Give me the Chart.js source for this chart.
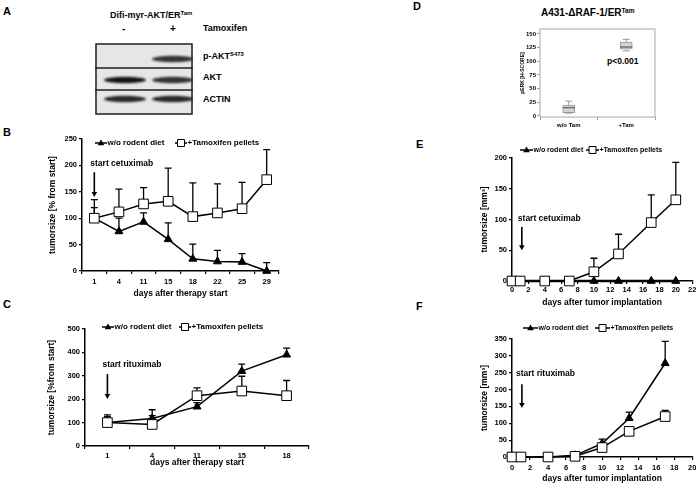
<!DOCTYPE html>
<html>
<head>
<title>Tumorsize</title>
<script src="https://cdn.jsdelivr.net/npm/chart.js"></script>
<style>
  body { margin: 0; background: #fff; font-family: "Liberation Sans", Arial, sans-serif; }
  #fig { position: relative; width: 700px; height: 488px; overflow: hidden; }
  #fig canvas { position: absolute; }
  .t { position: absolute; font-weight: bold; line-height: 1; white-space: nowrap; color: #000; }
  .t sup { font-size: 65%; vertical-align: 0.45em; line-height: 0; }
  .letter { font-size: 11px; }
</style>
</head>
<body>
<div id="fig">
  <div class="t letter" style="left:3px;top:6px">A</div>
  <div class="t letter" style="left:3px;top:127px">B</div>
  <div class="t letter" style="left:3px;top:299px">C</div>
  <div class="t letter" style="left:413px;top:1px">D</div>
  <div class="t letter" style="left:416px;top:139px">E</div>
  <div class="t letter" style="left:416px;top:301px">F</div>

  <div class="t" style="left:110px;top:11px;font-size:9px">Difi-myr-AKT/ER<sup>Tam</sup></div>
  <div class="t" style="left:122px;top:24px;font-size:10px">-</div>
  <div class="t" style="left:170px;top:24px;font-size:10px">+</div>
  <div class="t" style="left:203px;top:24px;font-size:9px">Tamoxifen</div>
  <div class="t" style="left:203px;top:52px;font-size:9px">p-AKT<sup>S473</sup></div>
  <div class="t" style="left:203px;top:73px;font-size:9px">AKT</div>
  <div class="t" style="left:203px;top:95px;font-size:9px">ACTIN</div>
  <canvas id="blot" width="98" height="72" style="left:95px;top:43px"></canvas>

  <div class="t" style="left:541px;top:8px;font-size:10px">A431-ΔRAF-1/ER<sup>Tam</sup></div>
  <div class="t" style="left:607px;top:57px;font-size:8.5px">p&lt;0.001</div>

  <canvas id="chartB" width="270" height="175" style="left:30px;top:125px"></canvas>
  <canvas id="chartC" width="290" height="153" style="left:30px;top:315px"></canvas>
  <canvas id="chartD" width="170" height="117" style="left:500px;top:15px"></canvas>
  <canvas id="chartE" width="230" height="170" style="left:470px;top:140px"></canvas>
  <canvas id="chartF" width="230" height="168" style="left:470px;top:320px"></canvas>
</div>

<script>
// ---- data ----
// A: western blot band strength, lanes [-Tam, +Tam]
const blotPAkt = [0, 0.85];
const blotAkt = [1, 0.85];
const blotActin = [0.9, 0.9];

// B: Difi, cetuximab
const daysB = ['1', '4', '11', '15', '18', '22', '25', '29'];
const dietB = [100, 75, 93, 60, 23, 18, 17, 0];
const dietErrB = [120, 100, 110, 91, 51, 39, 33, 16];
const tamB = [100, 112, 127, 132, 103, 110, 118, 173];
const tamErrB = [135, 155, 158, 195, 167, 165, 168, 230];

// C: rituximab
const daysC = ['1', '4', '11', '15', '18'];
const dietC = [100, 118, 168, 320, 390];
const dietErrC = [125, 155, 185, 350, 418];
const tamC = [100, 92, 215, 235, 215];
const tamErrC = [133, 130, 248, 298, 280];

// D: pERK H-score box plot
const groupsD = ['w/o Tam', '+Tam'];
const minD = [5, 119];
const q1D = [6, 122];
const medD = [15, 126];
const q3D = [20, 135];
const maxD = [27, 140];

// E: A431, cetuximab
const daysE = [0, 1, 4, 7, 10, 13, 17, 20];
const dietE = [0, 0, 0, 0, 0, 0, 0, 0];
const tamE = [0, 0, 0, 0, 15, 44, 95, 132];
const tamErrE = [0, 0, 0, 0, 37, 76, 140, 193];

// F: rituximab
const daysF = [0, 1, 4, 7, 10, 13, 17];
const dietF = [0, 0, 0, 5, 40, 115, 278];
const dietErrF = [0, 0, 0, 10, 53, 133, 343];
const tamF = [0, 0, 0, 2, 28, 76, 120];
const tamErrF = [0, 0, 0, 4, 33, 85, 138];

Chart.defaults.font.family = "'Liberation Sans', Arial, sans-serif";
Chart.defaults.font.weight = 'bold';
Chart.defaults.font.size = 8;
Chart.defaults.color = '#000';
Chart.defaults.animation = false;
Chart.defaults.plugins.legend.display = false;
Chart.defaults.plugins.tooltip.enabled = false;

// ---- blot ----
(function () {
  const c = document.getElementById('blot').getContext('2d');
  c.fillStyle = '#e6e6e6';
  c.fillRect(0, 0, 98, 72);
  const rows = [blotPAkt, blotAkt, blotActin];
  const rowY = [16, 37, 56];
  const laneX = [30, 78];
  c.filter = 'blur(1.2px)';
  rows.forEach((r, i) => {
    r.forEach((v, j) => {
      if (!v) return;
      c.fillStyle = 'rgba(20,20,20,' + v + ')';
      c.beginPath();
      c.ellipse(laneX[j], rowY[i], 21, 3.2, 0, 0, Math.PI * 2);
      c.fill();
    });
  });
  c.filter = 'none';
  c.strokeStyle = '#222';
  c.lineWidth = 1.5;
  c.strokeRect(1, 1, 96, 70);
  c.beginPath();
  c.moveTo(0, 25); c.lineTo(98, 25);
  c.moveTo(0, 47); c.lineTo(98, 47);
  c.stroke();
})();

// ---- plugins ----
const errorBars = {
  id: 'errorBars',
  beforeDatasetsDraw(chart) {
    const ctx = chart.ctx, ys = chart.scales.y;
    ctx.save();
    ctx.strokeStyle = '#000';
    ctx.lineWidth = 1.3;
    chart.data.datasets.forEach((ds, i) => {
      if (!ds.errTop) return;
      const meta = chart.getDatasetMeta(i);
      ds.errTop.forEach((top, j) => {
        const pt = meta.data[j];
        const y1 = ys.getPixelForValue(top);
        if (y1 >= pt.y - 1) return;
        ctx.beginPath();
        ctx.moveTo(pt.x, pt.y);
        ctx.lineTo(pt.x, y1);
        ctx.moveTo(pt.x - 3.5, y1);
        ctx.lineTo(pt.x + 3.5, y1);
        ctx.stroke();
      });
    });
    ctx.restore();
  }
};

function marker(ctx, style, x, y, s) {
  ctx.beginPath();
  if (style === 'triangle') {
    ctx.moveTo(x, y - s);
    ctx.lineTo(x + s * 0.95, y + s * 0.65);
    ctx.lineTo(x - s * 0.95, y + s * 0.65);
    ctx.closePath();
    ctx.fillStyle = '#000';
    ctx.fill();
  } else {
    ctx.rect(x - s, y - s, s * 2, s * 2);
    ctx.fillStyle = '#fff';
    ctx.fill();
    ctx.lineWidth = 1;
    ctx.strokeStyle = '#000';
    ctx.stroke();
  }
}

const lineLegend = {
  id: 'lineLegend',
  afterDraw(chart, args, o) {
    if (!o.items) return;
    const ctx = chart.ctx;
    ctx.save();
    ctx.font = 'bold ' + (o.size || 8) + 'px "Liberation Sans", Arial, sans-serif';
    ctx.textBaseline = 'middle';
    o.items.forEach((it) => {
      const ds = chart.data.datasets[it.ds];
      ctx.strokeStyle = '#000';
      ctx.lineWidth = 1.5;
      ctx.beginPath();
      ctx.moveTo(it.x, o.y);
      ctx.lineTo(it.x + o.len, o.y);
      ctx.stroke();
      marker(ctx, ds.pointStyle, it.x + o.len / 2, o.y, 3.5);
      ctx.fillStyle = '#000';
      ctx.fillText(ds.label, it.x + o.len + 0.5, o.y);
    });
    ctx.restore();
  }
};

const startNote = {
  id: 'startNote',
  afterDraw(chart, args, o) {
    if (!o.text) return;
    const ctx = chart.ctx, xs = chart.scales.x, ys = chart.scales.y;
    const x = xs.getPixelForValue(o.x);
    const yFrom = ys.getPixelForValue(o.yFrom), yTo = ys.getPixelForValue(o.yTo);
    ctx.save();
    ctx.font = 'bold 8.5px "Liberation Sans", Arial, sans-serif';
    ctx.textBaseline = 'middle';
    ctx.fillStyle = '#000';
    ctx.fillText(o.text, x + o.dx, ys.getPixelForValue(o.yText));
    ctx.strokeStyle = '#000';
    ctx.lineWidth = 1.6;
    ctx.beginPath();
    ctx.moveTo(x, yFrom);
    ctx.lineTo(x, yTo - 4);
    ctx.stroke();
    ctx.beginPath();
    ctx.moveTo(x - 2.8, yTo - 5);
    ctx.lineTo(x + 2.8, yTo - 5);
    ctx.lineTo(x, yTo);
    ctx.closePath();
    ctx.fill();
    ctx.restore();
  }
};

function series(label, style, vals, xs, err, order) {
  return {
    label: label,
    data: xs ? xs.map((x, i) => ({ x: x, y: vals[i] })) : vals,
    errTop: err,
    pointStyle: style,
    pointRadius: style === 'triangle' ? 4.6 : 6.8,
    pointBorderWidth: 1,
    pointBackgroundColor: style === 'triangle' ? '#000' : '#fff',
    pointBorderColor: '#000',
    borderColor: '#000',
    borderWidth: 1.5,
    tension: 0,
    clip: false,
    order: order
  };
}

function lineChart(id, box, xCfg, yCfg, datasets, legend, note) {
  return new Chart(document.getElementById(id), {
    type: 'line',
    data: { labels: xCfg.labels, datasets: datasets },
    options: {
      responsive: false,
      layout: { padding: { top: box.top, right: box.right, left: 0, bottom: 0 } },
      scales: {
        x: Object.assign({
          border: { color: '#000', width: 1.5 },
          grid: { drawOnChartArea: false, color: '#000', tickLength: 3, lineWidth: 1.2 },
          ticks: { font: { size: 7.5 }, padding: box.tickPad, maxRotation: 0, autoSkip: false },
          title: { display: true, text: xCfg.title, font: { size: 8.5 }, padding: { top: 0, bottom: box.titlePad } },
          afterFit: (s) => { s.height = box.xh; }
        }, xCfg.opts),
        y: {
          min: yCfg.min, max: yCfg.max,
          border: { color: '#000', width: 1.5 },
          grid: { drawOnChartArea: false, color: '#000', tickLength: 3, lineWidth: 1.2 },
          ticks: { stepSize: yCfg.step, font: { size: 7.5 }, padding: 2 },
          title: { display: true, text: yCfg.title, font: { size: 8.5 }, padding: { top: box.yTitlePad, bottom: 0 } },
          afterFit: (s) => { s.width = box.yw; }
        }
      },
      plugins: { lineLegend: legend, startNote: note }
    },
    plugins: [errorBars, lineLegend, startNote]
  });
}

const catX = { type: 'category', offset: true, grid: { offset: true, drawOnChartArea: false, color: '#000', tickLength: 3, lineWidth: 1.2 } };

// B
lineChart('chartB',
  { top: 14, right: 21, yw: 52, xh: 29, tickPad: 3, titlePad: 1, yTitlePad: 18 },
  { labels: daysB, title: 'days after therapy start', opts: catX },
  { min: 0, max: 250, step: 50, title: 'tumorsize [% from start]' },
  [series('+Tamoxifen pellets', 'rect', tamB, null, tamErrB, 1),
   series('w/o rodent diet', 'triangle', dietB, null, dietErrB, 2)],
  { y: 18, len: 12, items: [{ ds: 1, x: 65 }, { ds: 0, x: 145 }] },
  { text: 'start cetuximab', x: 0, dx: -4, yText: 204, yFrom: 187, yTo: 140 });

// C
lineChart('chartC',
  { top: 14, right: 11, yw: 55, xh: 22, tickPad: 2, titlePad: 0, yTitlePad: 17 },
  { labels: daysC, title: 'days after therapy start', opts: catX },
  { min: 0, max: 500, step: 100, title: 'tumorsize [%from start]' },
  [series('+Tamoxifen pellets', 'rect', tamC, null, tamErrC, 1),
   series('w/o rodent diet', 'triangle', dietC, null, dietErrC, 2)],
  { y: 12, len: 12, items: [{ ds: 1, x: 72 }, { ds: 0, x: 149 }] },
  { text: 'start rituximab', x: 0, dx: -5, yText: 346, yFrom: 308, yTo: 201 });

// E
const linX = (max, pad) => ({
  type: 'linear', min: 0, max: max,
  ticks: { stepSize: 2, font: { size: 7.5 }, padding: pad },
  afterBuildTicks: (s) => { s.ticks = []; for (let v = 0; v <= max; v += 2) s.ticks.push({ value: v }); }
});
const eDiet = series('w/o rodent diet', 'triangle', dietE, daysE, null, 2);
eDiet.borderWidth = 2.5;
lineChart('chartE',
  { top: 18, right: 7, yw: 42, xh: 29, tickPad: 1.5, titlePad: 2, yTitlePad: 10 },
  { title: 'days after tumor implantation', opts: linX(22, 1.5) },
  { min: 0, max: 200, step: 50, title: 'tumorsize [mm³]' },
  [series('+Tamoxifen pellets', 'rect', tamE, daysE, tamErrE, 1), eDiet],
  { y: 10, len: 13, size: 7, items: [{ ds: 1, x: 50 }, { ds: 0, x: 116 }] },
  { text: 'start cetuximab', x: 1.2, dx: -4, yText: 102, yFrom: 88, yTo: 50 });

// F
lineChart('chartF',
  { top: 19, right: 7, yw: 42, xh: 31, tickPad: 3.5, titlePad: 4, yTitlePad: 10 },
  { title: 'days after tumor implantation', opts: linX(20, 3.5) },
  { min: 0, max: 350, step: 50, title: 'tumorsize [mm³]' },
  [series('+Tamoxifen pellets', 'rect', tamF, daysF, tamErrF, 1),
   series('w/o rodent diet', 'triangle', dietF, daysF, dietErrF, 2)],
  { y: 8, len: 15, size: 7, items: [{ ds: 1, x: 53 }, { ds: 0, x: 125 }] },
  { text: 'start rituximab', x: 1.1, dx: -6, yText: 246, yFrom: 216, yTo: 145 });

// D: box plot (box as floating bar, whiskers/median via plugin)
const boxExtras = {
  id: 'boxExtras',
  afterDatasetsDraw(chart) {
    const ctx = chart.ctx, ys = chart.scales.y, a = chart.chartArea;
    const meta = chart.getDatasetMeta(0);
    ctx.save();
    ctx.strokeStyle = '#a8a8a8';
    ctx.lineWidth = 1;
    ctx.strokeRect(a.left, a.top, a.right - a.left, a.bottom - a.top);
    meta.data.forEach((bar, i) => {
      const x = bar.x, hw = 3.5;
      ctx.strokeStyle = '#9a9a9a';
      ctx.beginPath();
      ctx.moveTo(x, ys.getPixelForValue(q3D[i])); ctx.lineTo(x, ys.getPixelForValue(maxD[i]));
      ctx.moveTo(x - hw, ys.getPixelForValue(maxD[i])); ctx.lineTo(x + hw, ys.getPixelForValue(maxD[i]));
      ctx.moveTo(x, ys.getPixelForValue(q1D[i])); ctx.lineTo(x, ys.getPixelForValue(minD[i]));
      ctx.moveTo(x - hw, ys.getPixelForValue(minD[i])); ctx.lineTo(x + hw, ys.getPixelForValue(minD[i]));
      ctx.stroke();
      ctx.strokeStyle = '#666';
      ctx.lineWidth = 1.3;
      ctx.beginPath();
      ctx.moveTo(x - 6, ys.getPixelForValue(medD[i])); ctx.lineTo(x + 6, ys.getPixelForValue(medD[i]));
      ctx.stroke();
      ctx.lineWidth = 1;
    });
    ctx.restore();
  }
};

new Chart(document.getElementById('chartD'), {
  type: 'bar',
  data: {
    labels: groupsD,
    datasets: [{
      data: q1D.map((v, i) => [v, q3D[i]]),
      backgroundColor: '#d4d4d4',
      borderColor: '#9a9a9a',
      borderWidth: 1,
      borderSkipped: false,
      barThickness: 12
    }]
  },
  options: {
    responsive: false,
    layout: { padding: { top: 14, right: 15, left: 0, bottom: 0 } },
    scales: {
      x: {
        border: { display: false },
        grid: { drawOnChartArea: false, color: '#999', tickLength: 3 },
        ticks: { font: { size: 6 }, padding: 2 },
        afterFit: (s) => { s.height = 15; }
      },
      y: {
        min: -2, max: 159,
        border: { display: false },
        grid: { drawOnChartArea: false, color: '#999', tickLength: 3 },
        ticks: { font: { size: 6 }, padding: 1 },
        afterBuildTicks: (s) => { s.ticks = [0, 25, 50, 75, 100, 125, 150].map((v) => ({ value: v })); },
        title: { display: true, text: 'pERK [H-SCORE]', font: { size: 5 }, padding: { top: 20, bottom: 0 } },
        afterFit: (s) => { s.width = 40; }
      }
    }
  },
  plugins: [boxExtras]
});
</script>
</body>
</html>
